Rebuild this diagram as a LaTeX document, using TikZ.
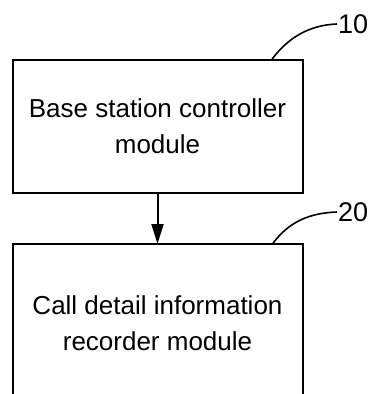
\documentclass[tikz,border=0pt]{standalone}
\usepackage{fontspec}
\setmainfont{Liberation Sans}
\usetikzlibrary{positioning}
\usetikzlibrary{arrows.meta}

\begin{document}
\begin{tikzpicture}[x=1pt,y=-1pt,
    modbox/.style={draw=black,line width=2pt,minimum width=290pt,outer sep=0pt,
        align=center,font=\fontsize{26}{36}\selectfont},
    reflabel/.style={anchor=west,inner sep=1pt,font=\fontsize{27}{27}\selectfont},
    leader/.style={black,line width=1.6pt}]
    \def\bx{157.5}
    \def\by{126.5}
    \def\gap{51pt}
    \useasboundingbox (0,0) rectangle (378,394);
    \clip (0,0) rectangle (378,394);
    % the two modules
    \node[modbox,minimum height=133pt] (bsc) at (\bx,\by) {Base station controller\\module};
    \node[modbox,minimum height=159pt,below=\gap of bsc] (cdr) {Call detail information\\recorder module};
    \draw [black,line width=2pt,-{Triangle[length=20pt,width=12pt]}] (bsc) -- (cdr);
    % reference numerals
    \node[reflabel] (n10) at (337,24) {10};
    \node[reflabel] (n20) at (337,212) {20};
    \draw [leader] ([xshift=-31pt]bsc.north east) .. controls +(16,-22) and +(-28,1) .. (n10.west);
    \draw [leader] ([xshift=-30pt]cdr.north east) .. controls +(16,-22) and +(-28,1) .. (n20.west);
\end{tikzpicture}
\end{document}
